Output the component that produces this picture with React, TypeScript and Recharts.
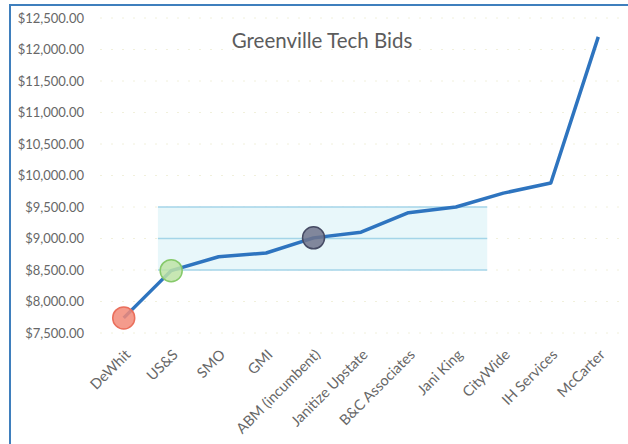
import { LineChart, Line, XAxis, YAxis, CartesianGrid, ReferenceArea, ReferenceLine } from 'recharts';

// ---------------------------------------------------------------------------
// Data
// ---------------------------------------------------------------------------

const bidders = [
  'DeWhit',
  'US&S',
  'SMO',
  'GMI',
  'ABM (incumbent)',
  'Janitize Upstate',
  'B&C Associates',
  'Jani King',
  'CityWide',
  'IH Services',
  'McCarter',
];

const bids = [7740, 8490, 8710, 8770, 9010, 9100, 9410, 9500, 9720, 9880, 12200];

const yTicks = [7500, 8000, 8500, 9000, 9500, 10000, 10500, 11000, 11500, 12000, 12500];

// highlighted bidders: [fill, stroke]
const highlights: Record<string, [string, string]> = {
  DeWhit: ['#f28a78', '#ea6f5c'],
  'US&S': ['#bde3a6', '#86c96a'],
  'ABM (incumbent)': ['#6e738b', '#464b64'],
};

// shaded "expected range" box, in axis units
const bandX = [0.72, 7.66];
const bandY = [8500, 9500];
const bandLines = [8500, 9000, 9500];

const FONT = 'Lato, "Open Sans", sans-serif';
const TEXT = '#676767';

// ---------------------------------------------------------------------------
// Helpers
// ---------------------------------------------------------------------------

const data = bidders.map((name, i) => ({ i, name, bid: bids[i] }));

function formatMoney(v: number): string {
  return '$' + v.toLocaleString('en-US', { minimumFractionDigits: 2, maximumFractionDigits: 2 });
}

function BidderTick({ x, y, payload }: any) {
  return (
    <g transform={`translate(${x + 4},${y + 17})`}>
      <text
        x={0}
        y={0}
        dy="0.35em"
        textAnchor="end"
        transform="rotate(-45)"
        fontSize={14.5}
        fontFamily={FONT}
        fill={TEXT}
      >
        {bidders[payload.value]}
      </text>
    </g>
  );
}

function MarkerDot({ cx, cy, payload, index }: any) {
  const h = highlights[payload?.name];
  if (!h) return <g key={`d-${index}`} />;
  return (
    <circle
      key={`d-${index}`}
      cx={cx}
      cy={cy}
      r={11}
      fill={h[0]}
      fillOpacity={0.85}
      stroke={h[1]}
      strokeWidth={1.5}
    />
  );
}

// ---------------------------------------------------------------------------
// Component
// ---------------------------------------------------------------------------

export default function App() {
  return (
    <div
      style={{
        position: 'absolute',
        left: 0,
        top: 0,
        width: 628,
        height: 444,
        background: '#fff',
        overflow: 'hidden',
      }}
    >
      <div
        style={{
          position: 'absolute',
          left: 9,
          top: 4,
          width: 640,
          height: 460,
          borderLeft: '2px solid #3f7fbd',
          borderTop: '2px solid #3f7fbd',
        }}
      />
      <div
        style={{
          position: 'absolute',
          left: 0,
          width: 628,
          top: 28,
          textAlign: 'center',
          paddingLeft: 16,
          boxSizing: 'border-box',
          fontFamily: FONT,
          fontSize: 20.5,
          color: '#5c5c5c',
        }}
      >
        Greenville Tech Bids
      </div>
      <div style={{ position: 'absolute', left: 0, top: 0 }}>
        <LineChart width={628} height={444} data={data} margin={{ top: 18, right: 6, left: 0, bottom: 0 }}>
          <CartesianGrid vertical={false} stroke="#f1f0dc" strokeDasharray="2 9" />
          <ReferenceArea
            x1={bandX[0]}
            x2={bandX[1]}
            y1={bandY[0]}
            y2={bandY[1]}
            fill="#e8f7fa"
            fillOpacity={1}
            stroke="none"
            ifOverflow="extendDomain"
          />
          {bandLines.map(v => (
            <ReferenceLine
              key={v}
              segment={[
                { x: bandX[0], y: v },
                { x: bandX[1], y: v },
              ]}
              stroke="#a4d5e8"
              strokeWidth={1.5}
            />
          ))}
          <XAxis
            type="number"
            dataKey="i"
            domain={[-0.5, bidders.length - 0.5]}
            ticks={bidders.map((_, i) => i)}
            interval={0}
            tick={<BidderTick />}
            axisLine={false}
            tickLine={false}
            tickSize={0}
            height={111}
          />
          <YAxis
            domain={[7500, 12500]}
            ticks={yTicks}
            tickFormatter={formatMoney}
            tick={{ fontSize: 13, fill: TEXT, fontFamily: FONT }}
            axisLine={false}
            tickLine={false}
            tickSize={0}
            tickMargin={16}
            width={100}
          />
          <Line
            type="linear"
            dataKey="bid"
            stroke="#2e74bf"
            strokeWidth={3.5}
            strokeLinejoin="round"
            dot={<MarkerDot />}
            activeDot={false}
            isAnimationActive={false}
          />
        </LineChart>
      </div>
    </div>
  );
}
